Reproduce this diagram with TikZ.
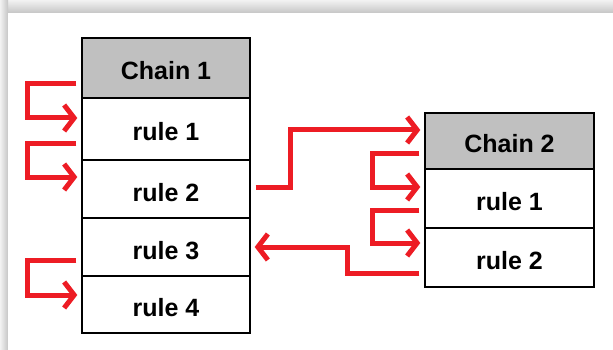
\documentclass[tikz,border=0pt]{standalone}
\usepackage{fontspec}
\setmainfont{Liberation Sans}
\usetikzlibrary{arrows.meta}
\definecolor{arrred}{HTML}{ED1C24}
\definecolor{hdrgray}{HTML}{C0C0C0}
\tikzset{
  cell/.style={draw=black, line width=1.4pt, fill=white, minimum width=168pt, inner sep=0pt,
    text height=24pt, text depth=0pt,
    font=\fontsize{25}{28}\selectfont\bfseries, text=black},
  hdr/.style={cell, fill=hdrgray},
  redarr/.style={draw=arrred, line width=5pt, -{Straight Barb[length=10pt,width=26pt]}},
}
\begin{document}
\begin{tikzpicture}[x=1pt,y=-1pt]
\useasboundingbox (0,0) rectangle (613,350);
% frame shadow
\shade[top color=gray!10, bottom color=gray!45] (0,0) rectangle (613,13);
\shade[left color=gray!10, right color=gray!45] (0,0) rectangle (8,350);
\fill[white] (8,13) rectangle (613,350);
% chain 1
\node[hdr, minimum height=60pt] (c1h) at (166,68) {Chain 1};
\node[cell, minimum height=62pt] (r1) at (166,129) {rule 1};
\node[cell, minimum height=58pt] (r2) at (166,189) {rule 2};
\node[cell, minimum height=58pt] (r3) at (166,247) {rule 3};
\node[cell, minimum height=57pt] (r4) at (166,304.5) {rule 4};
% chain 2
\node[hdr, minimum width=169pt, minimum height=56pt] (c2h) at (509.5,141) {Chain 2};
\node[cell, minimum width=169pt, minimum height=59pt] (s1) at (509.5,198.5) {rule 1};
\node[cell, minimum width=169pt, minimum height=59pt] (s2) at (509.5,257.5) {rule 2};
% chain 1 loops
\draw[redarr] ([xshift=-5pt,yshift=15pt]c1h.south west) -- ++(-49,0) |- ([xshift=-4pt,yshift=11pt]r1.west);
\draw[redarr] ([xshift=-5pt,yshift=17pt]r1.south west) -- ++(-49,0) |- ([xshift=-4pt,yshift=12pt]r2.west);
\draw[redarr] ([xshift=-5pt,yshift=16pt]r3.south west) -- ++(-49,0) |- ([xshift=-4pt,yshift=9.5pt]r4.west);
% cross arrows
\draw[redarr] ([xshift=5pt,yshift=2pt]r2.east) -- ++(35,0) |- ([xshift=-4pt,yshift=11pt]c2h.west);
\draw[redarr] ([xshift=-5pt,yshift=-15.5pt]s2.west) -- ++(-72,0) |- ([xshift=4pt,yshift=0pt]r3.east);
% chain 2 loops
\draw[redarr] ([xshift=-5pt,yshift=16pt]c2h.south west) -- ++(-47,0) |- ([xshift=-4pt,yshift=11.5pt]s1.west);
\draw[redarr] ([xshift=-5pt,yshift=18pt]s1.south west) -- ++(-47,0) |- ([xshift=-4pt,yshift=14.5pt]s2.west);
\end{tikzpicture}
\end{document}
